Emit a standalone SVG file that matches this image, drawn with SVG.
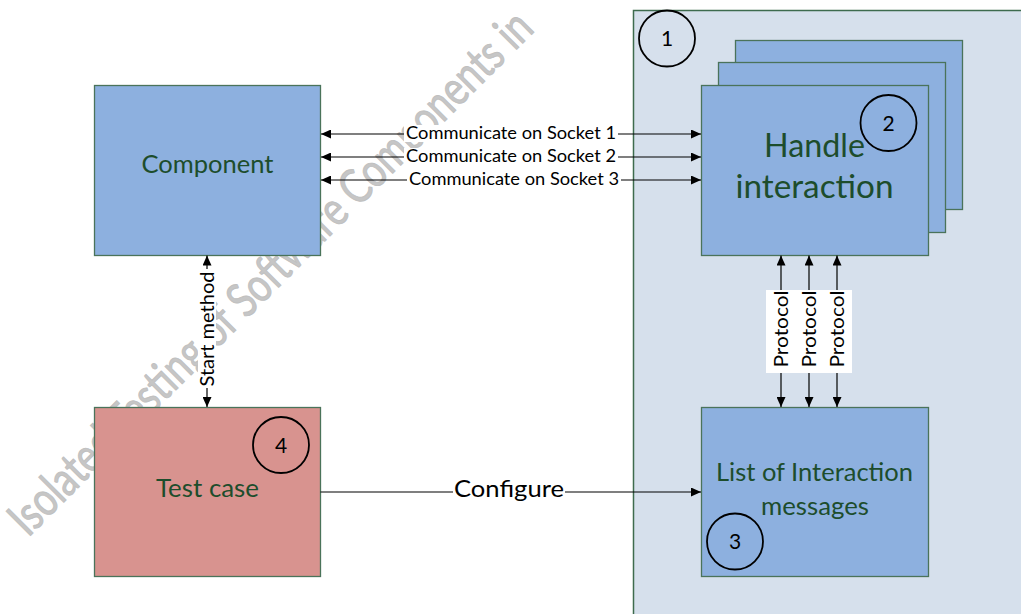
<svg xmlns="http://www.w3.org/2000/svg" width="1021" height="614" viewBox="0 0 1021 614">
<style>
  .box { fill: #8db0df; stroke: #4a735a; stroke-width: 1.3; }
  .tc { fill: #d8938f; stroke: #4a735a; stroke-width: 1.3; }
  .lbl { font-family: Lato, "Liberation Sans", sans-serif; fill: #1d4d2c; text-anchor: middle; }
  .txt { font-family: Lato, "Liberation Sans", sans-serif; fill: #000; text-anchor: middle; }
  .num { font-family: Lato, "Liberation Sans", sans-serif; fill: #000; text-anchor: middle; font-size: 21px; }
  .ring { fill: none; stroke: #000; stroke-width: 1.8; }
  .conn { stroke: #000; stroke-width: 1.2; fill: none; }
  .bg { fill: #fff; }
</style>
<defs>
  <marker id="ah" viewBox="0 0 10 9" refX="10" refY="4.5" markerWidth="10" markerHeight="9" markerUnits="userSpaceOnUse" orient="auto-start-reverse">
    <path d="M0,0 L10,4.5 L0,9 z" fill="#000"/>
  </marker>
</defs>
<rect width="1021" height="614" fill="#fff"/>

<g id="watermark">
  <text transform="translate(28,538) rotate(-45)" font-family="Lato, 'Liberation Sans', sans-serif" font-size="48" fill="#c6c6c6" stroke="#c0c0c0" stroke-width="1" textLength="718" lengthAdjust="spacingAndGlyphs">Isolated Testing of Software Components in</text>
</g>

<g id="container">
  <rect x="633.5" y="10.5" width="400" height="620" fill="#d6e0ec" stroke="#3e6b4e" stroke-width="1.5"/>
  <circle class="ring" cx="667" cy="38.5" r="28"/>
  <text class="num" x="667" y="46">1</text>
</g>

<g id="component">
  <rect class="box" x="94.5" y="85.5" width="226" height="170"/>
  <text class="lbl" x="207.5" y="173" font-size="25" textLength="132" lengthAdjust="spacingAndGlyphs">Component</text>
</g>

<g id="handle-interaction">
  <rect class="box" x="735.5" y="40.5" width="227" height="169"/>
  <rect class="box" x="718.5" y="62.5" width="227" height="170"/>
  <rect class="box" x="701.5" y="85.5" width="227" height="170"/>
  <text class="lbl" x="814.5" y="157" font-size="32" textLength="101" lengthAdjust="spacingAndGlyphs">Handle</text>
  <text class="lbl" x="814.5" y="198" font-size="32" textLength="158" lengthAdjust="spacingAndGlyphs">interaction</text>
  <circle class="ring" cx="888.5" cy="123" r="28"/>
  <text class="num" x="888.5" y="130.5">2</text>
</g>

<g id="list-messages">
  <rect class="box" x="701.5" y="407.5" width="227" height="169"/>
  <text class="lbl" x="814.5" y="481" font-size="25" textLength="197" lengthAdjust="spacingAndGlyphs">List of Interaction</text>
  <text class="lbl" x="815" y="515" font-size="25" textLength="108" lengthAdjust="spacingAndGlyphs">messages</text>
  <circle class="ring" cx="735" cy="541.5" r="28"/>
  <text class="num" x="735" y="549">3</text>
</g>

<g id="test-case">
  <rect class="tc" x="94.5" y="407.5" width="226" height="169"/>
  <text class="lbl" x="207.5" y="497" font-size="25" textLength="103" lengthAdjust="spacingAndGlyphs">Test case</text>
  <circle class="ring" cx="281" cy="445" r="28"/>
  <text class="num" x="281" y="452.5">4</text>
</g>

<g id="connectors">
  <line class="conn" x1="321" y1="134" x2="701" y2="134" marker-start="url(#ah)" marker-end="url(#ah)"/>
  <line class="conn" x1="321" y1="157" x2="701" y2="157" marker-start="url(#ah)" marker-end="url(#ah)"/>
  <line class="conn" x1="321" y1="180" x2="701" y2="180" marker-start="url(#ah)" marker-end="url(#ah)"/>
  <rect class="bg" x="404" y="125" width="214" height="17"/>
  <rect class="bg" x="404" y="148" width="214" height="17"/>
  <rect class="bg" x="407" y="171" width="214" height="17"/>
  <text class="txt" x="511" y="138.5" font-size="17" textLength="210" lengthAdjust="spacingAndGlyphs">Communicate on Socket 1</text>
  <text class="txt" x="511" y="161.5" font-size="17" textLength="210" lengthAdjust="spacingAndGlyphs">Communicate on Socket 2</text>
  <text class="txt" x="514" y="184.5" font-size="17" textLength="210" lengthAdjust="spacingAndGlyphs">Communicate on Socket 3</text>

  <line class="conn" x1="207" y1="255.5" x2="207" y2="407" marker-start="url(#ah)" marker-end="url(#ah)"/>
  <rect class="bg" x="198" y="269" width="18" height="119"/>
  <text class="txt" transform="translate(214,329) rotate(-90)" font-size="19" textLength="115" lengthAdjust="spacingAndGlyphs">Start method</text>

  <line class="conn" x1="781" y1="255.5" x2="781" y2="407" marker-start="url(#ah)" marker-end="url(#ah)"/>
  <line class="conn" x1="809" y1="255.5" x2="809" y2="407" marker-start="url(#ah)" marker-end="url(#ah)"/>
  <line class="conn" x1="837" y1="255.5" x2="837" y2="407" marker-start="url(#ah)" marker-end="url(#ah)"/>
  <rect class="bg" x="766" y="290" width="86" height="83"/>
  <text class="txt" transform="translate(787.5,329) rotate(-90)" font-size="20" textLength="77" lengthAdjust="spacingAndGlyphs">Protocol</text>
  <text class="txt" transform="translate(815.5,329) rotate(-90)" font-size="20" textLength="77" lengthAdjust="spacingAndGlyphs">Protocol</text>
  <text class="txt" transform="translate(843.5,329) rotate(-90)" font-size="20" textLength="77" lengthAdjust="spacingAndGlyphs">Protocol</text>

  <line class="conn" x1="320.5" y1="492" x2="701" y2="492" marker-end="url(#ah)"/>
  <rect class="bg" x="453" y="477" width="112" height="26"/>
  <text class="txt" x="509" y="497" font-size="24" textLength="110" lengthAdjust="spacingAndGlyphs">Configure</text>
</g>
</svg>
